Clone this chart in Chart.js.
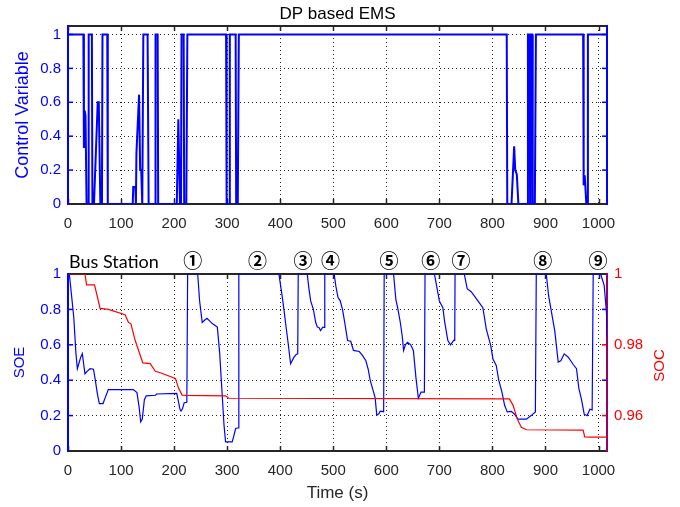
<!DOCTYPE html>
<html><head><meta charset="utf-8">
<script src="https://cdn.jsdelivr.net/npm/chart.js@4"></script>
<style>
body{margin:0;background:#fff;width:680px;height:507px;overflow:hidden;position:relative}
.box{position:absolute;left:0;width:680px}
</style></head><body>
<div class="box" style="top:0;height:240px"><canvas id="c1" width="680" height="240"></canvas></div>
<div class="box" style="top:240px;height:267px"><canvas id="c2" width="680" height="267"></canvas></div>
<script>
// ---------- data ----------
const xTicks = [0,100,200,300,400,500,600,700,800,900,1000];
const unitTicks = [0,0.2,0.4,0.6,0.8,1];
const socTicks = [0.96,0.98,1];

const ctrlTime = [0,29,30,31.5,33,35,38,39,45,46,49,56,58,61,64,65,74,75,
  122,123,127,128,129,134,136,138,140,141,142,150,152,164,165,169,170,
  205,208,211,213,214,218,219,223,225,298,299,304,305,316,317,320,322,
  827,828,836,841,843,846,849,866,867,870,871,872,875,876,880,882,
  971,972,974,977,979,980,1016];
const ctrlValue = [1,1,0.33,0.55,0.52,0,0,1,1,0,0,0.6,0.6,0,0,1,1,0,
  0,0.1,0.1,0,0.3,0.645,0.2,0.2,0,0,1,1,0,0,1,1,0,
  0,0.5,0,0,1,1,0,0,1,1,0,0,1,1,0,0,1,
  1,0,0,0.34,0.2,0.175,0,0,1,1,0,1,1,0,0,1,
  1,0.11,0.17,0,0,1,1];

const soeTime = [0,2.5,7,11,15,17.6,21,24,27,30,32,36,41.6,48,51,55,59,66,70,76,123,130,134,137,140,144,147.5,165,167,205,208.6,211,213,216,219,224,225.5,
  244.5,248,253,258,262,272,281.5,286,290,294,297,309.5,313,316,320,321,322,
  397.6,400,403.6,407,410,414.5,419.6,426,430,433,434,
  451,454,457.4,462.5,467,470,473,476,480,483,484,
  501.6,505,509,513,517.4,522,527,533,538,549,555,561.5,566,569.7,576,579,582,586,588.6,595,596,
  613.7,618,622,626.4,630,632.6,636,640,646,651,656,660.4,665.5,671.8,673,
  690.7,695,700,706.6,710,716,721,727,729,729.6,
  747,752.4,760,772.7,782,788.5,796.9,801,807.2,812,818,823,828,835.5,841.8,848,864,873,881,882.7,
  901.5,906,911,917.5,924,929,935.3,943,952,958.5,963,968,973,978.6,983.7,988,990,
  1004,1010.7,1015,1016];
const soeValue = [1,1,0.87,0.75,0.55,0.465,0.5,0.53,0.55,0.48,0.436,0.45,0.465,0.462,0.41,0.33,0.268,0.268,0.30,0.347,0.347,0.33,0.25,0.165,0.18,0.29,0.312,0.315,0.322,0.325,0.273,0.235,0.225,0.24,0.273,0.275,1,
  1,0.85,0.726,0.74,0.75,0.72,0.70,0.55,0.35,0.15,0.052,0.052,0.09,0.127,0.13,0.13,1,
  1,0.95,0.876,0.80,0.726,0.62,0.493,0.53,0.545,0.549,1,
  1,0.92,0.848,0.80,0.726,0.70,0.698,0.68,0.698,0.698,1,
  1,0.93,0.867,0.85,0.80,0.72,0.624,0.62,0.568,0.562,0.54,0.51,0.46,0.399,0.333,0.30,0.202,0.21,0.225,0.222,1,
  1,0.857,0.80,0.726,0.65,0.568,0.60,0.614,0.60,0.568,0.41,0.298,0.333,0.333,1,
  1,0.93,0.848,0.81,0.73,0.624,0.60,0.625,0.625,1,
  1,0.917,0.90,0.848,0.81,0.689,0.595,0.52,0.483,0.399,0.333,0.258,0.221,0.224,0.208,0.18,0.18,0.2,0.221,1,
  1,0.876,0.79,0.68,0.502,0.51,0.549,0.53,0.49,0.465,0.352,0.29,0.208,0.2,0.236,0.232,1,
  1,0.936,0.783,0.64];

const socTime = [0,32,35,50,60.5,76,107.7,114,118.5,126.7,141,155,164.5,174,202.4,208.6,215,224.5,297,303,832,839,847,854.5,864,971,974,983.7,1016];
const socValue = [1,1,0.9969,0.9969,0.9903,0.99,0.9885,0.9863,0.986,0.9812,0.9749,0.9747,0.9725,0.9721,0.9705,0.9677,0.9658,0.9657,0.9656,0.9649,0.9647,0.9629,0.959,0.9567,0.956,0.9559,0.954,0.9539,0.9539];

const stationNames = ['①','②','③','④','⑤','⑥','⑦','⑧','⑨'];
const stationTime = [235,357,443,495,605,684,741,895,999];

// ---------- helpers ----------
const pts = (xs, ys) => xs.map((x, i) => ({x, y: ys[i]}));
const BLUE = '#0000ff', RED = '#ff0000', DARK = '#262626', PURPLE = '#990066';
const FONT = '"Liberation Sans", Arial, sans-serif';
const fmt = v => String(Math.round(v * 100) / 100);

function setTicks(arr) { return s => { s.ticks = arr.map(v => ({value: v})); }; }

function frame(opts) {
  return {
    id: 'frame',
    beforeDatasetsDraw(chart) {
      const {ctx, chartArea: a, scales} = chart;
      const x = scales.x, y = scales.y;
      ctx.save();
      ctx.lineWidth = 1.5;
      ctx.strokeStyle = DARK;
      xTicks.forEach(v => {
        const px = Math.round(x.getPixelForValue(v)) + 0.5;
        ctx.beginPath(); ctx.moveTo(px, a.bottom); ctx.lineTo(px, a.bottom - 5);
        ctx.moveTo(px, a.top); ctx.lineTo(px, a.top + 5); ctx.stroke();
      });
      unitTicks.forEach(v => {
        const py = y.getPixelForValue(v);
        ctx.strokeStyle = BLUE;
        ctx.beginPath(); ctx.moveTo(a.left, py); ctx.lineTo(a.left + 5, py); ctx.stroke();
        if (!opts.rightTicksSoc || (v !== 0.6 && v !== 0.2 && v !== 1)) {
          ctx.beginPath(); ctx.moveTo(a.right, py); ctx.lineTo(a.right - 5, py); ctx.stroke();
        }
      });
      if (opts.rightTicksSoc) {
        const y2 = scales.y2;
        ctx.strokeStyle = RED;
        socTicks.forEach(v => {
          const py = y2.getPixelForValue(v);
          ctx.beginPath(); ctx.moveTo(a.right, py); ctx.lineTo(a.right - 5, py); ctx.stroke();
        });
      }
      ctx.lineWidth = 2;
      ctx.strokeStyle = DARK;
      ctx.beginPath(); ctx.moveTo(a.left, a.top); ctx.lineTo(a.right, a.top);
      ctx.moveTo(a.left, a.bottom); ctx.lineTo(a.right, a.bottom); ctx.stroke();
      ctx.strokeStyle = BLUE;
      ctx.beginPath(); ctx.moveTo(a.left, a.top - 1); ctx.lineTo(a.left, a.bottom + 1); ctx.stroke();
      ctx.strokeStyle = opts.rightColor;
      ctx.beginPath(); ctx.moveTo(a.right, a.top - 1); ctx.lineTo(a.right, a.bottom + 1); ctx.stroke();
      ctx.restore();
    }
  };
}

const gridX = {
  color: DARK, lineWidth: c => (c.tick && c.tick.value === 0 ? 0 : 1), drawTicks: false
};
const dashBorder = {display: false, dash: [1, 3]};

// ---------- top chart ----------
new Chart(document.getElementById('c1'), {
  type: 'line',
  data: {datasets: [{
    data: pts(ctrlTime, ctrlValue), borderColor: BLUE, borderWidth: 2,
    pointRadius: 0, tension: 0, fill: false
  }]},
  options: {
    responsive: false, animation: false, events: [],
    layout: {padding: {left: 0, right: 73, top: 26, bottom: 0}},
    plugins: {legend: {display: false}, tooltip: {enabled: false}},
    scales: {
      x: {
        type: 'linear', min: 0, max: 1016,
        afterBuildTicks: setTicks(xTicks),
        afterFit: s => { s.height = 36; },
        grid: gridX, border: dashBorder,
        ticks: {color: DARK, padding: 11, font: {family: FONT, size: 15}, maxRotation: 0, autoSkip: false, callback: v => String(v)}
      },
      y: {
        min: 0, max: 1.05,
        afterBuildTicks: setTicks(unitTicks),
        afterFit: s => { s.width = 68; },
        grid: {color: DARK, lineWidth: c => (c.tick && c.tick.value === 0 ? 0 : 1), drawTicks: false},
        border: dashBorder,
        ticks: {color: BLUE, padding: 7, font: {family: FONT, size: 15}, callback: fmt},
        title: {display: true, text: 'Control Variable', color: BLUE, font: {family: FONT, size: 18}, padding: {top: 12, bottom: 0}}
      }
    }
  },
  plugins: [frame({rightColor: BLUE, rightTicksSoc: false}), {
    id: 'ttl',
    afterDraw(chart) {
      const {ctx, chartArea: a} = chart;
      ctx.save();
      ctx.fillStyle = '#000';
      ctx.font = '17px ' + FONT;
      ctx.textAlign = 'center';
      ctx.textBaseline = 'alphabetic';
      ctx.fillText('DP based EMS', (a.left + a.right) / 2, 18.5);
      ctx.restore();
    }
  }]
});

// ---------- bottom chart ----------
new Chart(document.getElementById('c2'), {
  type: 'line',
  data: {datasets: [
    {data: pts(socTime, socValue), yAxisID: 'y2', borderColor: RED, borderWidth: 1.2, pointRadius: 0, tension: 0, fill: false},
    {data: pts(soeTime, soeValue), yAxisID: 'y', borderColor: BLUE, borderWidth: 1.2, pointRadius: 0, tension: 0, fill: false}
  ]},
  options: {
    responsive: false, animation: false, events: [],
    layout: {padding: {left: 0, right: 0, top: 34, bottom: 0}},
    plugins: {legend: {display: false}, tooltip: {enabled: false}},
    scales: {
      x: {
        type: 'linear', min: 0, max: 1016,
        afterBuildTicks: setTicks(xTicks),
        afterFit: s => { s.height = 56; },
        grid: gridX, border: dashBorder,
        ticks: {color: DARK, padding: 11, font: {family: FONT, size: 15}, maxRotation: 0, autoSkip: false, callback: v => String(v)},
        title: {display: true, text: 'Time (s)', color: DARK, font: {family: FONT, size: 17}, padding: {top: 0, bottom: 3}}
      },
      y: {
        position: 'left', min: 0, max: 1,
        afterBuildTicks: setTicks(unitTicks),
        afterFit: s => { s.width = 68; },
        grid: {color: DARK, lineWidth: c => (c.tick && (c.tick.value === 0 || c.tick.value === 1) ? 0 : 1), drawTicks: false},
        border: dashBorder,
        ticks: {color: BLUE, padding: 7, font: {family: FONT, size: 15}, callback: fmt},
        title: {display: true, text: 'SOE', color: BLUE, font: {family: FONT, size: 15}, padding: {top: 11, bottom: 0}}
      },
      y2: {
        position: 'right', min: 0.95, max: 1,
        afterBuildTicks: setTicks(socTicks),
        afterFit: s => { s.width = 73; },
        grid: {display: false, drawTicks: false},
        border: {display: false},
        ticks: {color: RED, padding: 7, font: {family: FONT, size: 15}, callback: fmt}
      }
    }
  },
  plugins: [frame({rightColor: PURPLE, rightTicksSoc: true}), {
    id: 'stations',
    afterDraw(chart) {
      const {ctx, scales, chartArea: a} = chart;
      ctx.save();
      // right axis title, reading bottom-to-top
      ctx.fillStyle = RED;
      ctx.font = '15px ' + FONT;
      ctx.textAlign = 'center';
      ctx.textBaseline = 'middle';
      ctx.translate(660, (a.top + a.bottom) / 2 + 3);
      ctx.rotate(-Math.PI / 2);
      ctx.fillText('SOC', 0, 0);
      ctx.restore();
      ctx.save();
      ctx.fillStyle = '#000';
      ctx.font = '18px Lato, "Open Sans", sans-serif';
      ctx.textAlign = 'left';
      ctx.textBaseline = 'alphabetic';
      ctx.fillText('Bus Station', 69, 27.5);
      ctx.font = 'bold 19px "Noto Sans CJK SC", "DejaVu Sans", sans-serif';
      ctx.textAlign = 'center';
      ctx.textBaseline = 'middle';
      stationTime.forEach((t, i) => {
        ctx.fillText(stationNames[i], scales.x.getPixelForValue(t), 21);
      });
      ctx.restore();
    }
  }]
});
</script>
</body></html>
